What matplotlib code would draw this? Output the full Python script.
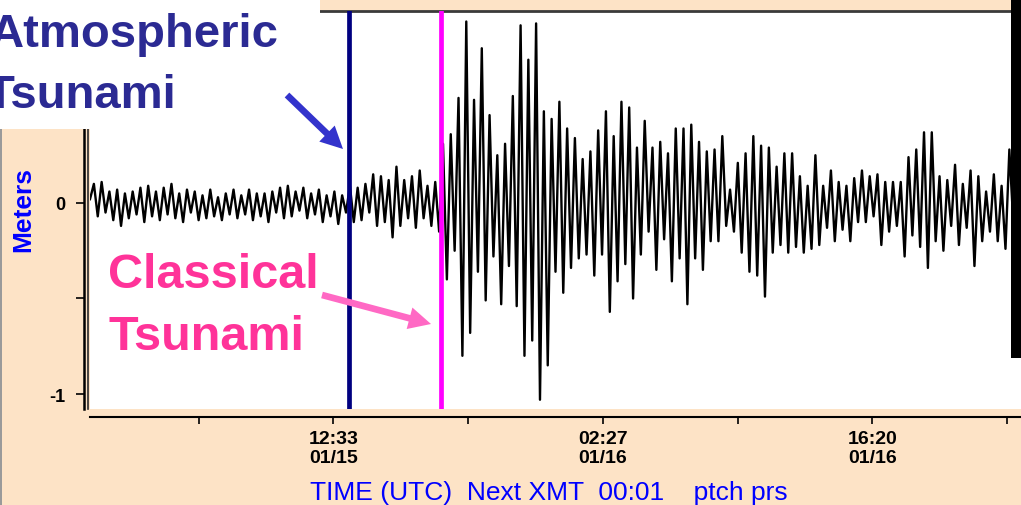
import numpy as np
import matplotlib.pyplot as plt
from matplotlib.patches import Rectangle, FancyArrowPatch, ArrowStyle

# Sea level (m) sampled every 0.2 h starting 01/15 00:00 UTC
sample_step_h = 0.2
quiet_m = [0.02, 0.10, -0.07, 0.11, -0.05, 0.06, -0.09, 0.07, -0.12, 0.05,
           -0.08, 0.06, -0.06, 0.08, -0.10, 0.09, -0.07, 0.06, -0.09, 0.08,
           -0.06, 0.10, -0.08, 0.05, -0.10, 0.07, -0.05, 0.06, -0.09, 0.04,
           -0.08, 0.07, -0.07, 0.03, -0.09, 0.05, -0.06, 0.07, -0.08, 0.04,
           -0.06, 0.07, -0.09, 0.05, -0.07, 0.05, -0.10, 0.06, -0.05, 0.08,
           -0.08, 0.09, -0.07, 0.06, -0.04, 0.08, -0.08, 0.05, -0.06, 0.07,
           -0.10, 0.04, -0.07, 0.06, -0.11, 0.04, -0.05]
atmospheric_m = [0.09, -0.10, 0.08, -0.09, 0.10, -0.05, 0.15, -0.12, 0.14, -0.10,
                 0.12, -0.18, 0.19, -0.12, 0.12, -0.08, 0.14, -0.13, 0.17, -0.08,
                 0.09, -0.12, 0.11, -0.15]
classical_m = [0.31, -0.40, 0.36, -0.25, 0.55, -0.80, 0.95, -0.68, 0.54, -0.36,
               0.81, -0.51, 0.46, -0.28, 0.25, -0.53, 0.31, -0.33, 0.56, -0.54,
               0.93, -0.80, 0.75, -0.72, 0.94, -1.03, 0.48, -0.85, 0.44, -0.36,
               0.53, -0.47, 0.39, -0.34, 0.34, -0.29, 0.23, -0.27, 0.27, -0.38,
               0.38, -0.27, 0.48, -0.57, 0.35, -0.41, 0.53, -0.32, 0.50, -0.50,
               0.29, -0.27, 0.43, -0.15, 0.29, -0.35, 0.32, -0.19, 0.26, -0.41,
               0.39, -0.29, 0.39, -0.53, 0.41, -0.29, 0.32, -0.35, 0.27, -0.20,
               0.28, -0.20, 0.35, -0.12, 0.07, -0.15, 0.21, -0.26, 0.26, -0.36,
               0.35, -0.38, 0.30, -0.49, 0.29, -0.26, 0.19, -0.22, 0.26, -0.26,
               0.26, -0.23, 0.14, -0.26, 0.09, -0.24, 0.25, -0.22, 0.09, -0.13,
               0.17, -0.20, 0.11, -0.14, 0.09, -0.20, 0.13, -0.10, 0.17, -0.10,
               0.14, -0.07, 0.15, -0.22, 0.11, -0.15, 0.11, -0.12, 0.11, -0.28,
               0.24, -0.17, 0.28, -0.23, 0.37, -0.34, 0.37, -0.20, 0.14, -0.25,
               0.12, -0.12, 0.20, -0.22, 0.10, -0.13, 0.17, -0.33, 0.14, -0.20,
               0.06, -0.15, 0.15, -0.20, 0.09, -0.24, 0.28, -0.10, 0.12, -0.05]

# arrival times (hours since 01/15 00:00)
atmospheric_arrival_h = 13.35
classical_arrival_h = 18.09

major_ticks_h = [12.55, 26.45, 40.33]
major_labels = ["12:33\n01/15", "02:27\n01/16", "16:20\n01/16"]
minor_ticks_h = [5.6, 19.5, 33.4, 47.3]
y_major = [0, -1]
y_labels = ["0", "-1"]
y_minor = [0.5, -0.5]

level = np.array(quiet_m + atmospheric_m + classical_m)
hours = np.arange(len(level)) * sample_step_h

W, H = 1021, 506
peach = "#FDE3C6"

plt.rcParams["font.family"] = ["Liberation Sans", "DejaVu Sans"]
plt.rcParams["font.weight"] = "bold"
plt.rcParams["xtick.labelsize"] = 14
plt.rcParams["ytick.labelsize"] = 13

fig = plt.figure(figsize=(W / 100, H / 100), dpi=100, facecolor=peach)
ax = fig.add_axes([90 / W, 1 - 410 / H, 931 / W, 398 / H])
ax.set_facecolor("white")

ax.plot(hours, level, color="black", lw=1.7, zorder=2)
ax.axvline(atmospheric_arrival_h, color="#000080", lw=3.4, zorder=3)
ax.axvline(classical_arrival_h, color="#FF00FF", lw=3.4, zorder=3)

ax.set_xlim(0, 48)
ax.set_ylim(-1.0785, 1.005)

ax.tick_params(axis="x", which="both", length=5, width=1.2, pad=4)
ax.tick_params(axis="y", which="both", length=6, width=1.2, pad=8)
ax.set_xticks(major_ticks_h, labels=major_labels, linespacing=1.25)
ax.set_xticks(minor_ticks_h, minor=True)
ax.set_yticks(y_major, labels=y_labels)
ax.set_yticks(y_minor, minor=True)

ax.spines["right"].set_visible(False)
ax.spines["top"].set_linewidth(2)
ax.spines["top"].set_color("#3a3a3a")
ax.spines["left"].set_position(("outward", 4))
ax.spines["left"].set_linewidth(1.8)
ax.spines["bottom"].set_position(("outward", 6))
ax.spines["bottom"].set_linewidth(1.5)

# inner edge of the double y-axis rule
fig.add_artist(plt.Line2D([88 / W, 88 / W], [1 - 410 / H, 1 - 12 / H],
                          color="#2a2a2a", lw=1.2, transform=fig.transFigure))

fig.text(310 / W, 1 - 500 / H, "TIME (UTC)  Next XMT  00:01    ptch prs",
         color="#0000FF", fontsize=19, fontweight="normal", va="baseline")
fig.text(23 / W, 1 - 210 / H, "Meters", rotation=90, color="#0000FF",
         fontsize=19, ha="center", va="center")

# overlays of the slide
fig.add_artist(Rectangle((0, 1 - 130 / H), 320 / W, 130 / H, facecolor="white",
                         edgecolor="none", transform=fig.transFigure, zorder=5))
fig.add_artist(Rectangle((1011 / W, 1 - 359 / H), 10 / W, 359 / H, facecolor="black",
                         edgecolor="none", transform=fig.transFigure, zorder=5))
fig.add_artist(Rectangle((0, 0), 2 / W, 1 - 130 / H, facecolor="#9a9a9a",
                         edgecolor="none", transform=fig.transFigure, zorder=5))

fig.text(-10 / W, 1 - 47 / H, "Atmospheric", color="#2B2A93", fontsize=34,
         va="baseline", zorder=6)
fig.text(-14 / W, 1 - 108 / H, "Tsunami", color="#2B2A93", fontsize=34,
         va="baseline", zorder=6)
fig.text(108 / W, 1 - 288 / H, "Classical", color="#FF3399", fontsize=35,
         va="baseline", zorder=6)
fig.text(108 / W, 1 - 350 / H, "Tsunami", color="#FF3399", fontsize=35,
         va="baseline", zorder=6)

style = ArrowStyle.Simple(head_length=1.0, head_width=1.0, tail_width=0.3)
fig.add_artist(FancyArrowPatch((287 / W, 1 - 96 / H), (343 / W, 1 - 150 / H),
                               transform=fig.transFigure, arrowstyle=style,
                               mutation_scale=16, color="#3333CC", lw=0,
                               shrinkA=0, shrinkB=0, zorder=6))
fig.add_artist(FancyArrowPatch((322 / W, 1 - 296 / H), (431 / W, 1 - 325 / H),
                               transform=fig.transFigure, arrowstyle=style,
                               mutation_scale=16, color="#FF69C4", lw=0,
                               shrinkA=0, shrinkB=0, zorder=6))

fig.savefig("out.png", dpi=100, facecolor=peach)
